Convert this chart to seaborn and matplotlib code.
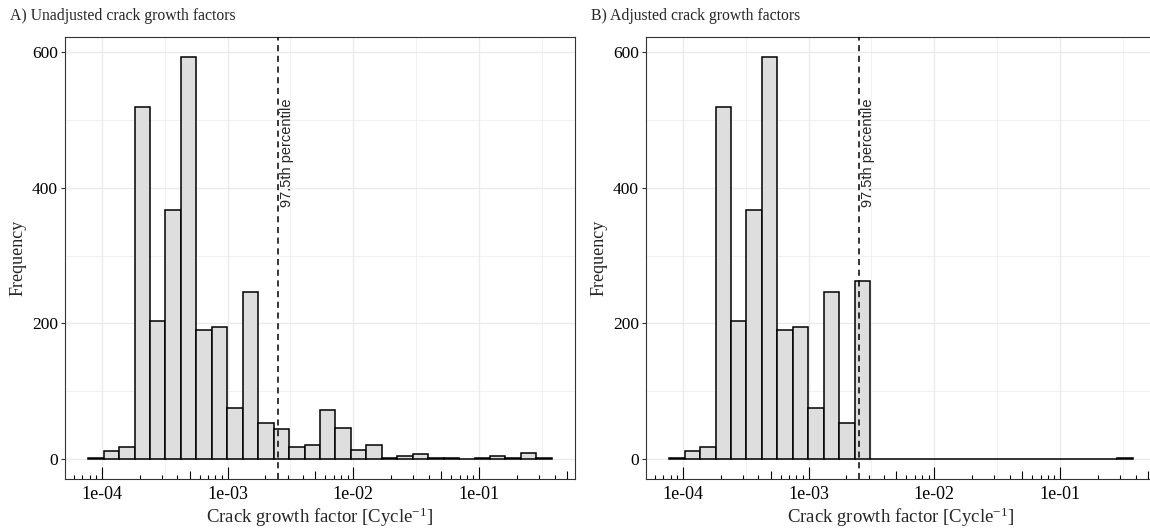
import numpy as np
import pandas as pd
import matplotlib
matplotlib.use("Agg")
import matplotlib.pyplot as plt
from matplotlib.ticker import FixedLocator, FixedFormatter, NullFormatter
import seaborn as sns

# ---------------- data ----------------
log_bin_start = -4.108      # log10 of the first bin's lower edge
log_bin_width = 0.1229      # bin width in log10 units (30 bins)
counts_unadjusted = [2, 12, 18, 520, 204, 368, 593, 190, 194, 75,
                     246, 53, 44, 17, 20, 72, 46, 13, 21, 2,
                     4, 7, 1, 2, 0, 1, 4, 1, 8, 1]
counts_adjusted = [2, 12, 18, 520, 204, 368, 593, 190, 194, 75,
                   246, 53, 263, 0, 0, 0, 0, 0, 0, 0,
                   0, 0, 0, 0, 0, 0, 0, 0, 0, 2]
percentile_975 = 2.52e-3
percentile_label = "97.5th percentile"
x_tick_values = [1e-4, 1e-3, 1e-2, 1e-1]
x_tick_labels = ["1e-04", "1e-03", "1e-02", "1e-01"]
y_tick_values = [0, 200, 400, 600]
y_tick_labels = ["0", "200", "400", "600"]
panel_titles = ["A) Unadjusted crack growth factors",
                "B) Adjusted crack growth factors"]
x_label = "Crack growth factor [Cycle$^{-1}$]"
y_label = "Frequency"

# ---------------- style ----------------
sns.set_style("white")
plt.rcParams["font.family"] = ["Liberation Serif", "DejaVu Serif"]
plt.rcParams["mathtext.fontset"] = "custom"
plt.rcParams["mathtext.rm"] = "Liberation Serif"
plt.rcParams["mathtext.it"] = "Liberation Serif:italic"
plt.rcParams["mathtext.bf"] = "Liberation Serif:bold"

W, H = 1150, 530
fig = plt.figure(figsize=(W / 100, H / 100), dpi=100)

n_bins = len(counts_unadjusted)
edges_log = log_bin_start + log_bin_width * np.arange(n_bins + 1)
centers = 10 ** (edges_log[:-1] + log_bin_width / 2)

log_lo = edges_log[0] - 0.05 * (edges_log[-1] - edges_log[0])
log_hi = edges_log[-1] + 0.05 * (edges_log[-1] - edges_log[0])
ymax = max(counts_unadjusted)
ylo, yhi = -0.05 * ymax, ymax * 1.05

panel_left_px = [65, 646]
panel_w_px = 510
panel_top_px, panel_bot_px = 37, 479

border_col = "#333333"
grid_col = "#EBEBEB"

for i, (counts, title) in enumerate(zip([counts_unadjusted, counts_adjusted], panel_titles)):
    left = panel_left_px[i]
    ax = fig.add_axes([left / W, (H - panel_bot_px) / H,
                       panel_w_px / W, (panel_bot_px - panel_top_px) / H])
    df = pd.DataFrame({"factor": centers, "count": counts})
    sns.histplot(data=df, x="factor", weights="count", bins=[float(e) for e in edges_log],
                 log_scale=True, ax=ax, color="#DEDEDE", edgecolor="black",
                 linewidth=1.1, alpha=1, zorder=3)
    ax.set_xlim(10 ** log_lo, 10 ** log_hi)
    ax.set_ylim(ylo, yhi)

    # grid (major + minor like ggplot theme_bw)
    ax.xaxis.set_major_locator(FixedLocator(x_tick_values))
    ax.xaxis.set_major_formatter(FixedFormatter(x_tick_labels))
    ax.xaxis.set_minor_locator(FixedLocator([10 ** v for v in (-4.5, -3.5, -2.5, -1.5, -0.5)]))
    ax.xaxis.set_minor_formatter(NullFormatter())
    ax.yaxis.set_major_locator(FixedLocator(y_tick_values))
    ax.yaxis.set_major_formatter(FixedFormatter(y_tick_labels))
    ax.yaxis.set_minor_locator(FixedLocator([100, 300, 500]))
    ax.set_axisbelow(True)
    ax.grid(True, which="major", color=grid_col, linewidth=1.0, zorder=0)
    ax.grid(True, which="minor", color=grid_col, linewidth=0.5, zorder=0)

    ax.tick_params(axis="x", which="both", length=0, pad=5, labelsize=13, colors="black")
    ax.tick_params(axis="y", which="major", length=3, width=0.8, color=border_col,
                   pad=2, labelsize=12.5, labelcolor="black", left=True)
    ax.tick_params(axis="y", which="minor", length=0)
    for s in ax.spines.values():
        s.set_visible(True)
        s.set_color(border_col)
        s.set_linewidth(0.8)

    # log ticks along the bottom (annotation_logticks style)
    trans = ax.get_xaxis_transform()
    ax_h = panel_bot_px - panel_top_px
    for dec in range(-5, 1):
        for m in range(1, 10):
            v = m * 10.0 ** dec
            if not (10 ** log_lo <= v <= 10 ** log_hi):
                continue
            ln = 12 if m == 1 else (8 if m == 5 else 4)
            ax.vlines(v, 0, ln / ax_h, transform=trans, color="black",
                      linewidth=0.8, zorder=5)

    # percentile line + label
    ax.axvline(percentile_975, color="black", linestyle=(0, (4, 3)),
               linewidth=1.1, zorder=6)
    ax.annotate(percentile_label, xy=(percentile_975, 452), xytext=(6.5, 0),
                textcoords="offset points", rotation=90, ha="center", va="center",
                family=["Liberation Sans", "DejaVu Sans"], fontsize=10.5, zorder=7)

    ax.set_xlabel("")
    ax.set_ylabel("")

    fig.text((left - 55) / W, 1 - 16 / H, title, ha="left", va="center", fontsize=11.3)
    fig.text((left - 47) / W, 1 - ((panel_top_px + panel_bot_px) / 2) / H, y_label,
             rotation=90, ha="center", va="center", fontsize=13)
    fig.text((left + panel_w_px / 2) / W, 1 - 517 / H, x_label,
             ha="center", va="center", fontsize=13.5)

fig.savefig("out.png", dpi=100)
